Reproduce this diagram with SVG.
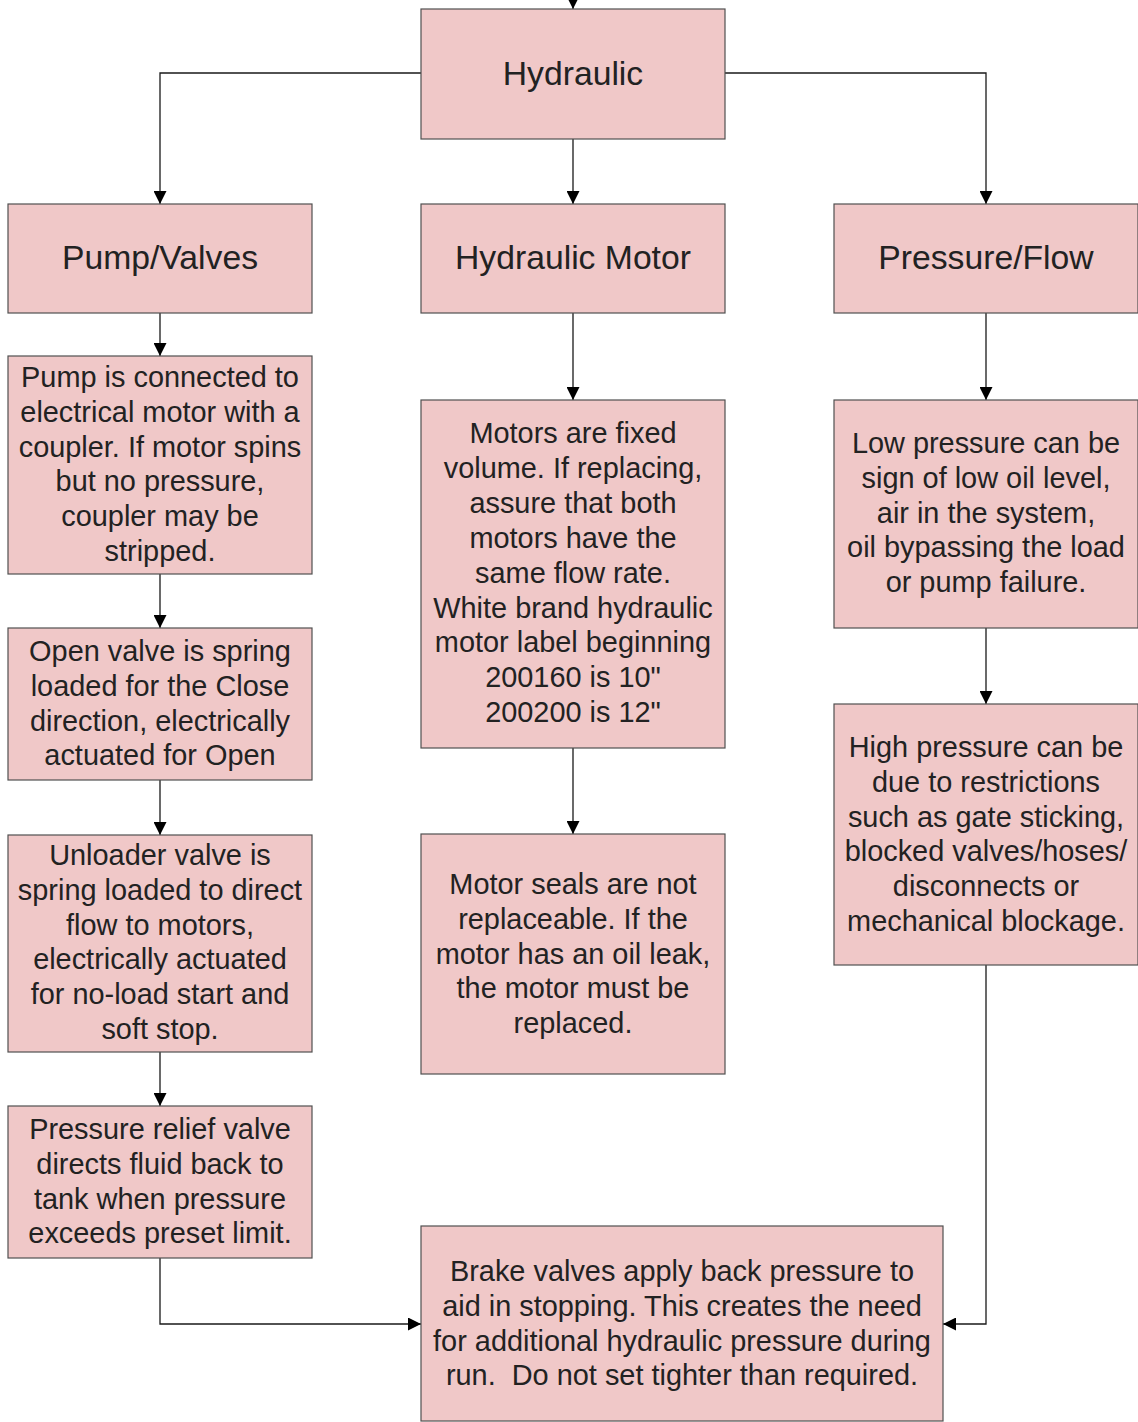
<svg xmlns="http://www.w3.org/2000/svg" width="1138" height="1422" viewBox="0 0 1138 1422">
<style>
.box{fill:#f0c8c8;stroke:#505050;stroke-width:1.2}
.t{font-family:"Liberation Sans",Arial,sans-serif;font-size:33.7px;fill:#222;text-anchor:middle}
.b{font-family:"Liberation Sans",Arial,sans-serif;font-size:28.9px;fill:#222;text-anchor:middle}
.c{fill:none;stroke:#1a1a1a;stroke-width:1.3}
</style>
<defs>
<marker id="ar" markerWidth="14" markerHeight="13" refX="13" refY="6.5" orient="auto" markerUnits="userSpaceOnUse">
<path d="M0,0 L13,6.5 L0,13 Z" fill="#000"/>
</marker>
</defs>
<g id="connectors">
<path class="c" d="M573,-2 V9" marker-end="url(#ar)"/>
<path class="c" d="M421,73 H160 V204" marker-end="url(#ar)"/>
<path class="c" d="M725,73 H986 V204" marker-end="url(#ar)"/>
<path class="c" d="M573,139 V204" marker-end="url(#ar)"/>
<path class="c" d="M160,313 V356" marker-end="url(#ar)"/>
<path class="c" d="M160,574 V628" marker-end="url(#ar)"/>
<path class="c" d="M160,780 V835" marker-end="url(#ar)"/>
<path class="c" d="M160,1052 V1106" marker-end="url(#ar)"/>
<path class="c" d="M160,1258 V1324 H421" marker-end="url(#ar)"/>
<path class="c" d="M573,313 V400" marker-end="url(#ar)"/>
<path class="c" d="M573,748 V834" marker-end="url(#ar)"/>
<path class="c" d="M986,313 V400" marker-end="url(#ar)"/>
<path class="c" d="M986,628 V704" marker-end="url(#ar)"/>
<path class="c" d="M986,965 V1324 H943" marker-end="url(#ar)"/>
</g>
<g id="hydraulic"><rect class="box" x="421" y="9" width="304" height="130"/><text class="t" x="573" y="85">Hydraulic</text></g>
<g id="pumpvalves"><rect class="box" x="8" y="204" width="304" height="109"/><text class="t" x="160" y="269">Pump/Valves</text></g>
<g id="hydraulicmotor"><rect class="box" x="421" y="204" width="304" height="109"/><text class="t" x="573" y="269">Hydraulic Motor</text></g>
<g id="pressureflow"><rect class="box" x="834" y="204" width="304" height="109"/><text class="t" x="986" y="269">Pressure/Flow</text></g>
<g id="pump"><rect class="box" x="8" y="356" width="304" height="218"/>
<text class="b" y="387"><tspan x="160">Pump is connected to</tspan><tspan x="160" dy="34.8">electrical motor with a</tspan><tspan x="160" dy="34.8">coupler. If motor spins</tspan><tspan x="160" dy="34.8">but no pressure,</tspan><tspan x="160" dy="34.8">coupler may be</tspan><tspan x="160" dy="34.8">stripped.</tspan></text></g>
<g id="openvalve"><rect class="box" x="8" y="628" width="304" height="152"/>
<text class="b" y="661"><tspan x="160">Open valve is spring</tspan><tspan x="160" dy="34.8">loaded for the Close</tspan><tspan x="160" dy="34.8">direction, electrically</tspan><tspan x="160" dy="34.8">actuated for Open</tspan></text></g>
<g id="unloader"><rect class="box" x="8" y="835" width="304" height="217"/>
<text class="b" y="865"><tspan x="160">Unloader valve is</tspan><tspan x="160" dy="34.8">spring loaded to direct</tspan><tspan x="160" dy="34.8">flow to motors,</tspan><tspan x="160" dy="34.8">electrically actuated</tspan><tspan x="160" dy="34.8">for no-load start and</tspan><tspan x="160" dy="34.8">soft stop.</tspan></text></g>
<g id="relief"><rect class="box" x="8" y="1106" width="304" height="152"/>
<text class="b" y="1139"><tspan x="160">Pressure relief valve</tspan><tspan x="160" dy="34.8">directs fluid back to</tspan><tspan x="160" dy="34.8">tank when pressure</tspan><tspan x="160" dy="34.8">exceeds preset limit.</tspan></text></g>
<g id="motorsfixed"><rect class="box" x="421" y="400" width="304" height="348"/>
<text class="b" y="443"><tspan x="573">Motors are fixed</tspan><tspan x="573" dy="34.9">volume. If replacing,</tspan><tspan x="573" dy="34.9">assure that both</tspan><tspan x="573" dy="34.9">motors have the</tspan><tspan x="573" dy="34.9">same flow rate.</tspan><tspan x="573" dy="34.9">White brand hydraulic</tspan><tspan x="573" dy="34.9">motor label beginning</tspan><tspan x="573" dy="34.9">200160 is 10"</tspan><tspan x="573" dy="34.9">200200 is 12"</tspan></text></g>
<g id="motorseals"><rect class="box" x="421" y="834" width="304" height="240"/>
<text class="b" y="894"><tspan x="573">Motor seals are not</tspan><tspan x="573" dy="34.8">replaceable. If the</tspan><tspan x="573" dy="34.8">motor has an oil leak,</tspan><tspan x="573" dy="34.8">the motor must be</tspan><tspan x="573" dy="34.8">replaced.</tspan></text></g>
<g id="lowpressure"><rect class="box" x="834" y="400" width="304" height="228"/>
<text class="b" y="453"><tspan x="986">Low pressure can be</tspan><tspan x="986" dy="34.8">sign of low oil level,</tspan><tspan x="986" dy="34.8">air in the system,</tspan><tspan x="986" dy="34.8">oil bypassing the load</tspan><tspan x="986" dy="34.8">or pump failure.</tspan></text></g>
<g id="highpressure"><rect class="box" x="834" y="704" width="304" height="261"/>
<text class="b" y="757"><tspan x="986">High pressure can be</tspan><tspan x="986" dy="34.8">due to restrictions</tspan><tspan x="986" dy="34.8">such as gate sticking,</tspan><tspan x="986" dy="34.8">blocked valves/hoses/</tspan><tspan x="986" dy="34.8">disconnects or</tspan><tspan x="986" dy="34.8">mechanical blockage.</tspan></text></g>
<g id="brake"><rect class="box" x="421" y="1226" width="522" height="195"/>
<text class="b" y="1281" xml:space="preserve"><tspan x="682">Brake valves apply back pressure to</tspan><tspan x="682" dy="34.8">aid in stopping. This creates the need</tspan><tspan x="682" dy="34.8">for additional hydraulic pressure during</tspan><tspan x="682" dy="34.8">run.  Do not set tighter than required.</tspan></text></g>
</svg>
